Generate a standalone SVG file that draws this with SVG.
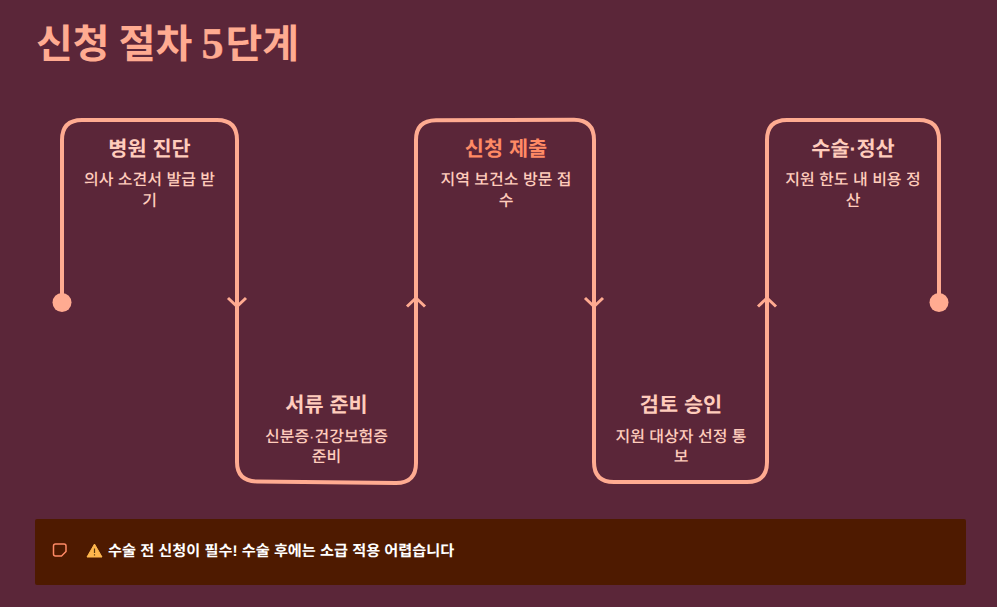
<svg xmlns="http://www.w3.org/2000/svg" width="997" height="607" viewBox="0 0 997 607" style="background:#5b2639">
<style>
text{font-family:"Liberation Sans","Noto Sans CJK KR",sans-serif;text-anchor:middle;text-rendering:geometricPrecision}
.h{font-size:20.800px;font-weight:700;fill:#ffccbc}
.d{font-size:16px;font-weight:500;fill:#ffccbc}
.line{fill:none;stroke:#ffab91;stroke-width:4;stroke-linejoin:round}
.chev{fill:none;stroke:#ffab91;stroke-width:3}
</style>
<rect width="997" height="607" fill="#5b2639"/>
<text id="title" x="36" y="58" style="text-anchor:start;font-size:40px;font-weight:700;fill:#ffab91;font-family:'Noto Sans CJK KR',sans-serif">신청 절차 <tspan style="font-family:'Liberation Serif',serif;font-size:44px;stroke:#ffab91;stroke-width:.5">5</tspan><tspan dx="2">단계</tspan></text>
<g id="connectors">
<path class="line" d="M62 302V140Q62 120 82 120H217Q237 120 237 140V462Q237 481 257 481.500L396 483Q416 483 416 463V140Q416 120.500 436 120.300L574 119.800Q594 120 594 140V462Q594 482 614 482H747Q767 482 767 462V140Q767 120 787 120H919Q939 120 939 140V302"/>
<path class="chev" d="M228 298L237 306.500L246 298"/>
<path class="chev" d="M407 306.500L416 298L425 306.500"/>
<path class="chev" d="M585 298L594 306.500L603 298"/>
<path class="chev" d="M758 306.500L767 298L776 306.500"/>
<circle cx="62" cy="302.500" r="9.500" fill="#ffab91"/>
<circle cx="939" cy="302.500" r="9.500" fill="#ffab91"/>
</g>
<g id="node1"><text class="h" x="149.500" y="156">병원 진단</text><text class="d" x="149.500" y="185">의사 소견서 발급 받</text><text class="d" x="149.500" y="206">기</text></g>
<g id="node2"><text class="h" x="326.500" y="412">서류 준비</text><text class="d" x="326.500" y="442">신분증·건강보험증</text><text class="d" x="326.500" y="462">준비</text></g>
<g id="node3"><text class="h" x="506" y="156" style="fill:#ff8a65">신청 제출</text><text class="d" x="506" y="185">지역 보건소 방문 접</text><text class="d" x="506" y="206">수</text></g>
<g id="node4"><text class="h" x="681" y="412">검토 승인</text><text class="d" x="681" y="442">지원 대상자 선정 통</text><text class="d" x="681" y="462">보</text></g>
<g id="node5"><text class="h" x="853" y="156">수술·정산</text><text class="d" x="853" y="185">지원 한도 내 비용 정</text><text class="d" x="853" y="206">산</text></g>
<g id="note">
<rect x="35" y="519" width="931" height="66" rx="2" fill="#4e1a00"/>
<path d="M55.500 544H64Q66 544 66 546V551.500L61.500 556H55.500Q53.500 556 53.500 554V546Q53.500 544 55.500 544Z" fill="none" stroke="#ff8a65" stroke-width="1.500" stroke-linejoin="round"/>
<path d="M87 557L94.500 544L102 557Z" fill="#ffb74d" stroke="#ffb74d" stroke-linejoin="round"/>
<path d="M94.500 548.500V553M94.500 554.300V555.500" stroke="#5b3a10" stroke-width="1.200"/>
<text x="108" y="556" style="text-anchor:start;font-size:15.200px;font-weight:700;fill:#fff">수술 전 신청이 필수! 수술 후에는 소급 적용 어렵습니다</text>
</g>
</svg>
